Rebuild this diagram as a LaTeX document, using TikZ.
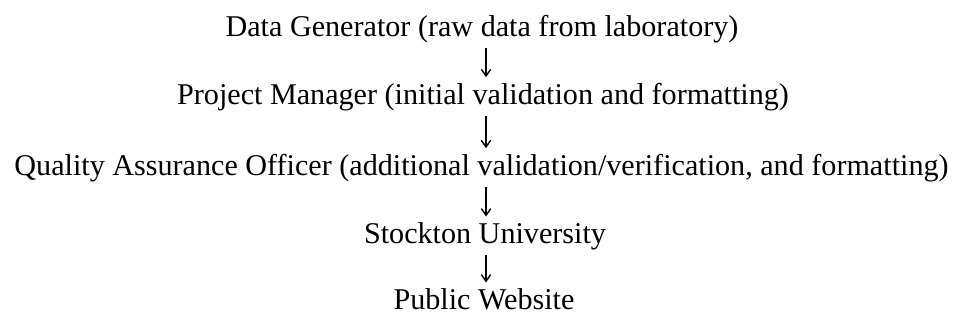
\documentclass[tikz,border=0pt]{standalone}
\usepackage{fontspec}
\setmainfont{Liberation Serif}
\usetikzlibrary{arrows.meta}
\begin{document}
\begin{tikzpicture}[x=0.75pt,y=-0.75pt,
  lbl/.style={anchor=base,inner sep=0pt,font=\fontsize{22.6pt}{26pt}\selectfont},
  flow/.style={line width=1.05pt,-{Straight Barb[length=5pt,width=7pt,line width=1.05pt]},shorten <=4pt,shorten >=4pt}]
\useasboundingbox (0,0) rectangle (960,322);
\node[lbl] (a) at (482,36) {Data Generator (raw data from laboratory)};
\node[lbl] (b) at (483,104) {Project Manager (initial validation and formatting)};
\node[lbl] (c) at (481.5,175) {Quality Assurance Officer (additional validation/verification, and formatting)};
\node[lbl] (d) at (485,243) {Stockton University};
\node[lbl] (e) at (484,309) {Public Website};
\draw[flow] ([xshift=3pt]a.south) -- ([xshift=3pt]a.south |- b.north);
\draw[flow] ([xshift=2.25pt]b.south) -- ([xshift=2.25pt]b.south |- c.north);
\draw[flow] ([xshift=3.4pt]c.south) -- ([xshift=3.4pt]c.south |- d.north);
\draw[flow] ([xshift=0.75pt]d.south) -- ([xshift=0.75pt]d.south |- e.north);
\end{tikzpicture}
\end{document}
